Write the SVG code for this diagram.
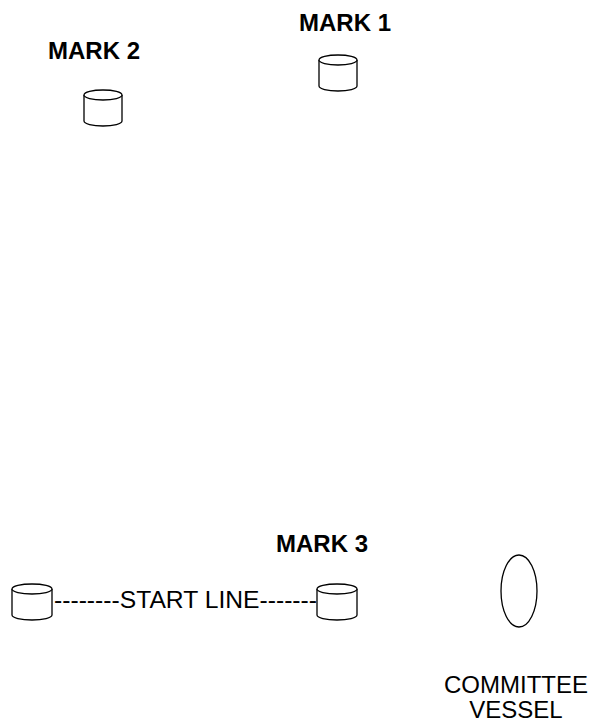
<svg xmlns="http://www.w3.org/2000/svg" width="591" height="723" viewBox="0 0 591 723">
<style>
.cyl{fill:#fff;stroke:#000;stroke-width:1.3}
.lbl{font-family:"Liberation Sans",Arial,sans-serif;font-size:24px;fill:#000}
.b{font-weight:bold}
</style>
<defs>
<g id="cylinder">
<path class="cyl" d="M0 5 A19 5 0 0 1 38 5 V31 A19 5 0 0 1 0 31 Z"/>
<path class="cyl" fill="none" d="M0 5 A19 5 0 0 0 38 5"/>
</g>
<g id="cylinder-w">
<path class="cyl" d="M0 5 A20 5 0 0 1 40 5 V31 A20 5 0 0 1 0 31 Z"/>
<path class="cyl" fill="none" d="M0 5 A20 5 0 0 0 40 5"/>
</g>
</defs>
<rect width="591" height="723" fill="#fff"/>
<g id="connectors"></g>
<g id="mark1">
<text class="lbl b" x="299" y="31">MARK 1</text>
<use href="#cylinder" x="319" y="55"/>
</g>
<g id="mark2">
<text class="lbl b" x="48" y="59">MARK 2</text>
<use href="#cylinder" x="84" y="90"/>
</g>
<g id="start-pin">
<use href="#cylinder-w" x="12" y="584"/>
</g>
<g id="start-line">
<text class="lbl" x="54" y="608" textLength="263" lengthAdjust="spacingAndGlyphs">--------START LINE-------</text>
</g>
<g id="mark3">
<text class="lbl b" x="276" y="552">MARK 3</text>
<use href="#cylinder-w" x="317" y="584"/>
</g>
<g id="committee-vessel">
<ellipse cx="519" cy="591" rx="18" ry="36" fill="#fff" stroke="#000" stroke-width="1.3"/>
<text class="lbl" x="516" y="693" text-anchor="middle">COMMITTEE</text>
<text class="lbl" x="516" y="718" text-anchor="middle">VESSEL</text>
</g>
</svg>
